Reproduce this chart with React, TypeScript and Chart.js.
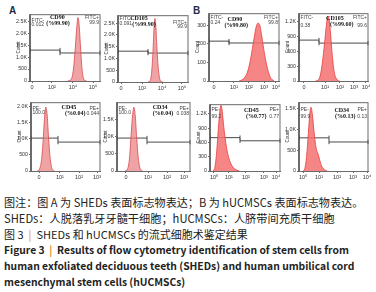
import React, { useEffect, useRef } from "react";
import { Chart, registerables } from "chart.js";
Chart.register(...registerables);

// x positions are display channels (0..1000 across each plot)
// Panel A (SHEDs)
const aCd90X = [540, 570, 600, 625, 650, 670, 685, 700, 720, 740, 760, 785, 810];
const aCd90Y = [0, 30, 150, 600, 1500, 2300, 2650, 2400, 1500, 600, 150, 20, 0];
const aCd105X = [430, 460, 480, 500, 515, 528, 540, 555, 575, 595, 615, 640];
const aCd105Y = [0, 60, 400, 1300, 2300, 2700, 2400, 1500, 600, 150, 20, 0];
const aCd45X = [90, 120, 150, 175, 195, 215, 235, 255, 275, 295, 315, 340];
const aCd45Y = [0, 50, 300, 900, 1600, 1970, 1700, 1000, 450, 150, 30, 0];
const aCd34X = [110, 140, 170, 195, 215, 232, 250, 270, 290, 310, 330, 350];
const aCd34Y = [0, 40, 350, 1100, 1650, 1850, 1600, 950, 400, 120, 25, 0];
// Panel B (hUCMSCs)
const bCd90X = [430, 480, 520, 560, 600, 640, 670, 700, 720, 750, 780, 810, 840, 870, 900, 930];
const bCd90Y = [0, 8, 25, 60, 130, 220, 285, 310, 305, 250, 175, 110, 60, 25, 8, 0];
const bCd105X = [240, 280, 310, 340, 370, 395, 420, 440, 460, 480, 500, 520, 545, 570, 590];
const bCd105Y = [0, 20, 120, 380, 750, 1100, 1300, 1200, 900, 550, 280, 120, 40, 5, 0];
const bCd45X = [40, 70, 95, 120, 140, 157, 175, 195, 215, 235, 255, 280, 310, 340, 380, 420];
const bCd45Y = [0, 80, 400, 900, 1250, 1375, 1250, 950, 700, 500, 350, 220, 120, 60, 20, 0];
const bCd34X = [60, 85, 110, 135, 155, 174, 195, 215, 235, 255, 275, 295, 320, 350, 380, 410];
const bCd34Y = [0, 60, 350, 900, 1350, 1540, 1350, 1000, 700, 500, 420, 300, 150, 60, 20, 0];

// tick positions (channels) and labels
const aCd90TickX = [29, 314, 614, 900];
const aCd105TickX = [43, 343, 629, 914];
const aTopTickLabels = ["0", "10²", "10⁴", "10⁶"];
const aCd45TickX = [116, 420, 696, 957];
const aCd34TickX = [123, 425, 685, 918];
const aBottomTickLabels = ["0", "10¹", "10²", "10³"];
const bCd90TickX = [71, 357, 571, 786, 957];
const bCd105TickX = [72, 377, 594, 797, 971];
const bTopTickLabels = ["0", "10¹", "10²", "10³", "10⁴"];
const bCd45TickX = [57, 271, 514, 771, 943];
const bCd34TickX = [58, 290, 551, 783, 986];
const bBottomTickLabels = ["10⁰", "10¹", "10²", "10³", "10⁴"];

const aCd90YTicks = [0, 500, 1000, 1500, 2000, 2500];
const aCd45YTicks = [0, 500, 1000, 1500, 2000];
const aCd34YTicks = [0, 500, 1000, 1500];
const bCd90YTicks = [0, 100, 200, 300];
const bCd105YTicks = [0, 300, 600, 900, 1200];
const bCd34YTicks = [0, 500, 1000, 1500];

// gates: [split channel, left level, right level]
const aCd90Gate = [429, 1290, 1170];
const aCd105Gate = [429, 1310, 1230];
const bCd90Gate = [286, 214, 204];
const bCd105Gate = [290, 820, 760];
const aCd45Gate = [391, 1015, 892];
const aCd34Gate = [411, 957, 840];
const bCd45Gate = [429, 699, 633];
const bCd34Gate = [435, 800, 700];

// annotation texts
const aCd90Text = ["FITC-", "0.012", "CD90", "(%99.90)", "FITC+", "99.9"];
const aCd105Text = ["FITC-", "0.091", "CD105", "(%99.90)", "FITC+", "99.9"];
const bCd90Text = ["FITC-", "0.24", "CD90", "(%99.80)", "FITC+", "99.8"];
const bCd105Text = ["FITC-", "0.38", "CD105", "(%99.60)", "FITC+", "99.6"];
const aCd45Text = ["PE-", "100.0", "CD45", "(%0.04)", "PE+", "0.044"];
const aCd34Text = ["PE-", "100.0", "CD34", "(%0.04)", "PE+", "0.038"];
const bCd45Text = ["PE-", "99.2", "CD45", "(%0.77)", "PE+", "0.77"];
const bCd34Text = ["PE-", "99.9", "CD34", "(%0.13)", "PE+", "0.13"];

type Panel = {
  box: number[]; // left, top, right, bottom
  xs: number[]; ys: number[];
  tickX: number[]; tickLabels: string[];
  yMax: number; yTicks: number[];
  gate: number[]; text: string[];
  layoutText: number[]; // cx1, cx2, dyLeft1, dyLeft2, dyC1, dyC2, dyR1, dyR2
  fill: string; stroke: string;
};

const A_FILL = "rgba(234,128,130,0.72)";
const A_STROKE = "#d8474c";
const B_FILL = "rgba(245,112,112,0.85)";
const B_STROKE = "#e83c3c";

const panels: Panel[] = [
  { box: [30, 14, 100, 81], xs: aCd90X, ys: aCd90Y, tickX: aCd90TickX, tickLabels: aTopTickLabels, yMax: 2790, yTicks: aCd90YTicks, gate: aCd90Gate, text: aCd90Text, layoutText: [0.39, 0.4, 6, 10.5, 3.5, 9.5, 3.5, 8], fill: A_FILL, stroke: A_STROKE },
  { box: [118, 15, 188, 82], xs: aCd105X, ys: aCd105Y, tickX: aCd105TickX, tickLabels: aTopTickLabels, yMax: 2840, yTicks: aCd90YTicks, gate: aCd105Gate, text: aCd105Text, layoutText: [0.3, 0.37, 3.5, 8, 3.5, 9, 7.5, 11.5], fill: A_FILL, stroke: A_STROKE },
  { box: [209, 13, 279, 81], xs: bCd90X, ys: bCd90Y, tickX: bCd90TickX, tickLabels: bTopTickLabels, yMax: 364, yTicks: bCd90YTicks, gate: bCd90Gate, text: bCd90Text, layoutText: [0.37, 0.39, 4, 9, 6.5, 12.5, 4, 9], fill: B_FILL, stroke: B_STROKE },
  { box: [299, 13, 368, 81], xs: bCd105X, ys: bCd105Y, tickX: bCd105TickX, tickLabels: bTopTickLabels, yMax: 1360, yTicks: bCd105YTicks, gate: bCd105Gate, text: bCd105Text, layoutText: [0.52, 0.62, 4, 12.5, 5, 11.5, 4, 12], fill: B_FILL, stroke: B_STROKE },
  { box: [31, 102, 100, 171], xs: aCd45X, ys: aCd45Y, tickX: aCd45TickX, tickLabels: aBottomTickLabels, yMax: 2123, yTicks: aCd45YTicks, gate: aCd45Gate, text: aCd45Text, layoutText: [0.55, 0.64, 6, 10.5, 5, 11, 6, 11], fill: A_FILL, stroke: A_STROKE },
  { box: [117, 102, 190, 171], xs: aCd34X, ys: aCd34Y, tickX: aCd34TickX, tickLabels: aBottomTickLabels, yMax: 2000, yTicks: aCd34YTicks, gate: aCd34Gate, text: aCd34Text, layoutText: [0.59, 0.63, 6, 10, 5, 11, 6, 11], fill: A_FILL, stroke: A_STROKE },
  { box: [210, 104, 280, 171], xs: bCd45X, ys: bCd45Y, tickX: bCd45TickX, tickLabels: bBottomTickLabels, yMax: 1400, yTicks: bCd105YTicks, gate: bCd45Gate, text: bCd45Text, layoutText: [0.59, 0.66, 5, 12, 6, 12, 5, 12], fill: B_FILL, stroke: B_STROKE },
  { box: [299, 102, 368, 171], xs: bCd34X, ys: bCd34Y, tickX: bCd34TickX, tickLabels: bBottomTickLabels, yMax: 1660, yTicks: bCd34YTicks, gate: bCd34Gate, text: bCd34Text, layoutText: [0.62, 0.67, 7, 14, 8, 14, 7, 14], fill: B_FILL, stroke: B_STROKE },
];

const Y_AXIS_W = 22;
const X_AXIS_H = 12;
const PAD_T = 4;
const PAD_R = 6;

function fmtCount(v: number): string {
  return v >= 1000 ? (v / 1000).toFixed(1) + "K" : String(v);
}

function HistChart({ p }: { p: Panel }) {
  const ref = useRef<HTMLCanvasElement | null>(null);
  const [L, T, R, B] = p.box;
  const w = R - L + Y_AXIS_W + PAD_R;
  const h = B - T + PAD_T + X_AXIS_H;
  useEffect(() => {
    if (!ref.current) return;
    const [split, gl, gr] = p.gate;
    const t = p.text;
    const lt = p.layoutText;
    const annot = {
      id: "annot",
      afterDatasetsDraw(chart: any) {
        const ctx = chart.ctx;
        const a = chart.chartArea;
        ctx.save();
        ctx.strokeStyle = "#6b6b6b";
        ctx.lineWidth = 1;
        ctx.strokeRect(a.left - 0.5, a.top + 0.5, a.right - a.left + 0.5, a.bottom - a.top);
        const cw = a.right - a.left;
        ctx.fillStyle = "#444";
        ctx.font = "5px 'Liberation Sans', Arial, sans-serif";
        ctx.textBaseline = "middle";
        ctx.textAlign = "left";
        ctx.fillText(t[0], a.left + 1.5, a.top + lt[2]);
        ctx.fillText(t[1], a.left + 1.5, a.top + lt[3]);
        ctx.textAlign = "right";
        ctx.fillText(t[4], a.right - 1, a.top + lt[6]);
        ctx.fillText(t[5], a.right - 1, a.top + lt[7]);
        ctx.fillStyle = "#111";
        ctx.font = "bold 6px 'Liberation Serif', 'Times New Roman', serif";
        ctx.textAlign = "center";
        ctx.fillText(t[2], a.left + lt[0] * cw, a.top + lt[4]);
        ctx.fillText(t[3], a.left + lt[1] * cw, a.top + lt[5]);
        ctx.translate(a.left - 11, (a.top + a.bottom) / 2);
        ctx.rotate(-Math.PI / 2);
        ctx.fillStyle = "#333";
        ctx.font = "4.5px 'Liberation Sans', Arial, sans-serif";
        ctx.fillText("Count", 0, 0);
        ctx.restore();
      },
    };
    const gateDs = (pts: { x: number; y: number }[]) => ({
      data: pts,
      borderColor: "#4a4a4a",
      borderWidth: 1,
      pointStyle: "line",
      rotation: 90,
      pointRadius: 2.2,
      pointBorderWidth: 1,
      pointBorderColor: "#4a4a4a",
      fill: false,
      tension: 0,
      clip: false,
    });
    const chart = new Chart(ref.current, {
      type: "line",
      data: {
        datasets: [
          {
            data: p.xs.map((x, i) => ({ x, y: p.ys[i] })),
            fill: "origin",
            backgroundColor: p.fill,
            borderColor: p.stroke,
            borderWidth: 0.8,
            pointRadius: 0,
            cubicInterpolationMode: "monotone",
          } as any,
          gateDs([{ x: 0, y: gl }, { x: split, y: gl }]) as any,
          gateDs([{ x: split, y: gr }, { x: 1000, y: gr }]) as any,
        ],
      },
      options: {
        animation: false,
        responsive: false,
        devicePixelRatio: 1,
        events: [],
        layout: { padding: { top: PAD_T, right: PAD_R, left: 0, bottom: 0 }, autoPadding: false } as any,
        plugins: { legend: { display: false }, tooltip: { enabled: false } },
        scales: {
          x: {
            type: "linear",
            min: 0,
            max: 1000,
            afterBuildTicks: (s: any) => { s.ticks = p.tickX.map((v) => ({ value: v })); },
            afterFit: (s: any) => { s.height = X_AXIS_H; },
            ticks: {
              autoSkip: false,
              maxRotation: 0,
              padding: 1,
              color: "#333",
              font: { size: 5.5, family: "'Liberation Sans', Arial, sans-serif" },
              callback: (v: any) => p.tickLabels[p.tickX.indexOf(Number(v))],
            },
            grid: { drawOnChartArea: false, tickLength: 2, color: "#6b6b6b" },
            border: { color: "#6b6b6b" },
          },
          y: {
            type: "linear",
            min: 0,
            max: p.yMax,
            afterBuildTicks: (s: any) => { s.ticks = p.yTicks.map((v) => ({ value: v })); },
            afterFit: (s: any) => { s.width = Y_AXIS_W; },
            ticks: {
              autoSkip: false,
              padding: 1,
              color: "#333",
              font: { size: 5.3, family: "'Liberation Sans', Arial, sans-serif" },
              callback: (v: any) => fmtCount(Number(v)),
            },
            grid: { drawOnChartArea: false, tickLength: 2, color: "#6b6b6b" },
            border: { color: "#6b6b6b" },
          },
        },
      } as any,
      plugins: [annot as any],
    });
    return () => chart.destroy();
  }, [p]);
  return (
    <canvas
      ref={ref}
      width={w}
      height={h}
      style={{ position: "absolute", left: L - Y_AXIS_W, top: T - PAD_T, width: w, height: h }}
    />
  );
}

const captionFont = "'Noto Sans CJK SC', 'Noto Sans', sans-serif";
const bar = <span style={{ color: "#e08a2e" }}>|</span>;

export default function App() {
  const line = (top: number, content: React.ReactNode, bold = false, size = 11) => (
    <div
      style={{
        position: "absolute",
        left: 4,
        top: top - 8,
        height: 16,
        lineHeight: "16px",
        fontFamily: captionFont,
        fontSize: size,
        fontWeight: bold ? 700 : 400,
        color: "#222",
        whiteSpace: "nowrap",
      }}
    >
      {content}
    </div>
  );
  return (
    <div style={{ position: "absolute", left: 0, top: 0, width: 376, height: 292, background: "#fff", overflow: "hidden" }}>
      <div style={{ position: "absolute", left: 9, top: 5, fontFamily: "'Liberation Sans', Arial, sans-serif", fontWeight: 700, fontSize: 10, color: "#1e2c4a" }}>A</div>
      <div style={{ position: "absolute", left: 193, top: 5, fontFamily: "'Liberation Sans', Arial, sans-serif", fontWeight: 700, fontSize: 10, color: "#1e2c4a" }}>B</div>
      {panels.map((p, i) => (
        <HistChart key={i} p={p} />
      ))}
      {line(202, "图注：图 A 为 SHEDs 表面标志物表达；B 为 hUCMSCs 表面标志物表达。", false, 11.1)}
      {line(218, "SHEDs：人脱落乳牙牙髓干细胞；hUCMSCs：人脐带间充质干细胞", false, 11.2)}
      {line(234, <>图 3&nbsp;&nbsp;{bar}&nbsp;&nbsp;SHEDs 和 hUCMSCs 的流式细胞术鉴定结果</>, false, 11)}
      {line(250, <>Figure 3&nbsp;&nbsp;{bar}&nbsp;&nbsp;Results of flow cytometry identification of stem cells from</>, true, 10.3)}
      {line(266, "human exfoliated deciduous teeth (SHEDs) and human umbilical cord", true, 10.3)}
      {line(282, "mesenchymal stem cells (hUCMSCs)", true, 10.3)}
    </div>
  );
}
